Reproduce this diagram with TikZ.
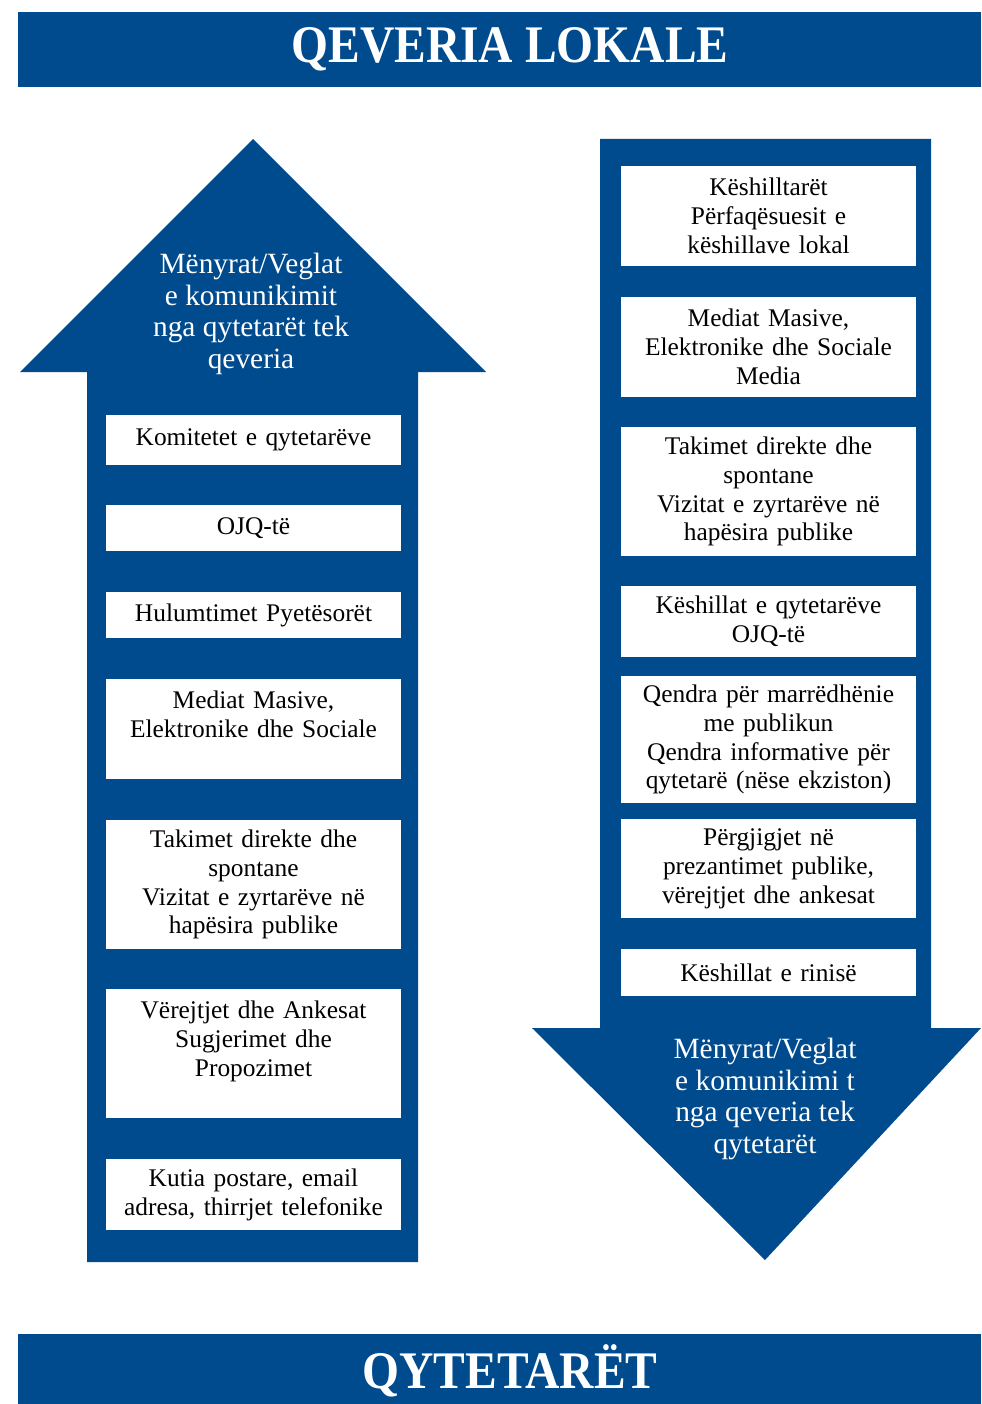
\documentclass[tikz,border=0pt]{standalone}
\usepackage{fontspec}
\setmainfont{Liberation Serif}
\usepackage{tikz}
\usetikzlibrary{positioning}

\definecolor{govblue}{HTML}{004B8D}

\tikzset{
    itembox/.style={fill=white, draw=none, minimum width=295bp, text width=290bp,
        align=center, inner sep=0pt, font=\fontsize{25.5}{29}\selectfont},
    headtext/.style={text=white, align=center, font=\fontsize{29.5}{31.7}\selectfont},
    titletext/.style={text=white, font=\fontsize{53}{60}\selectfont\bfseries}
}

\begin{document}
\begin{tikzpicture}[x=1bp, y=-1bp]
    \useasboundingbox (0,0) rectangle (981,1404);

    % Title bars
    \fill[govblue] (18,12) rectangle (981,87);
    \node[titletext] (gov) at (510,49) {\scalebox{0.9}[1]{QEVERIA LOKALE}};
    \fill[govblue] (18,1334) rectangle (981,1404);
    \node[titletext] (cit) at (510,1371) {\scalebox{0.9}[1]{QYTETARËT}};

    % Upward arrow (citizens to government)
    \fill[govblue] (253,139) -- (486,372) -- (418,372) -- (418,1262)
        -- (87,1262) -- (87,372) -- (20,372) -- cycle;
    \node[headtext] (uphead) at (251,314) {Mënyrat/Veglat\\e komunikimit\\nga qytetarët tek\\qeveria};

    % Downward arrow (government to citizens)
    \fill[govblue] (600,139) -- (931,139) -- (931,1028) -- (981,1028)
        -- (765,1260) -- (532,1028) -- (600,1028) -- cycle;
    \node[headtext] (downhead) at (765,1099) {Mënyrat/Veglat\\e komunikimi t\\nga qeveria tek\\qytetarët};

    % Left column items
    \node[itembox, minimum height=50bp] (l1) at (253.5,440) {Komitetet e qytetarëve};
    \node[itembox, minimum height=46bp] (l2) at (253.5,528) {OJQ-të};
    \node[itembox, minimum height=46bp] (l3) at (253.5,615) {Hulumtimet Pyetësorët};
    \node[itembox, minimum height=100bp] (l4) at (253.5,729) {Mediat Masive,\\Elektronike dhe Sociale\\\mbox{}};
    \node[itembox, minimum height=129bp] (l5) at (253.5,884.5) {Takimet direkte dhe\\spontane\\Vizitat e zyrtarëve në\\hapësira publike};
    \node[itembox, minimum height=129bp] (l6) at (253.5,1053.5) {Vërejtjet dhe Ankesat\\Sugjerimet dhe\\Propozimet\\\mbox{}};
    \node[itembox, minimum height=71bp] (l7) at (253.5,1194.5) {Kutia postare, email\\adresa, thirrjet telefonike};

    % Right column items
    \node[itembox, minimum height=100bp] (r1) at (768.5,216) {Këshilltarët\\Përfaqësuesit e\\këshillave lokal};
    \node[itembox, minimum height=100bp] (r2) at (768.5,347) {Mediat Masive,\\Elektronike dhe Sociale\\Media};
    \node[itembox, minimum height=129bp] (r3) at (768.5,491.5) {Takimet direkte dhe\\spontane\\Vizitat e zyrtarëve në\\hapësira publike};
    \node[itembox, minimum height=71bp] (r4) at (768.5,621.5) {Këshillat e qytetarëve\\OJQ-të};
    \node[itembox, minimum height=127bp] (r5) at (768.5,739.5) {Qendra për marrëdhënie\\me publikun\\Qendra informative për\\qytetarë (nëse ekziston)};
    \node[itembox, minimum height=99bp] (r6) at (768.5,868.5) {Përgjigjet në\\prezantimet publike,\\vërejtjet dhe ankesat};
    \node[itembox, minimum height=47bp] (r7) at (768.5,972.5) {Këshillat e rinisë};

\end{tikzpicture}
\end{document}
